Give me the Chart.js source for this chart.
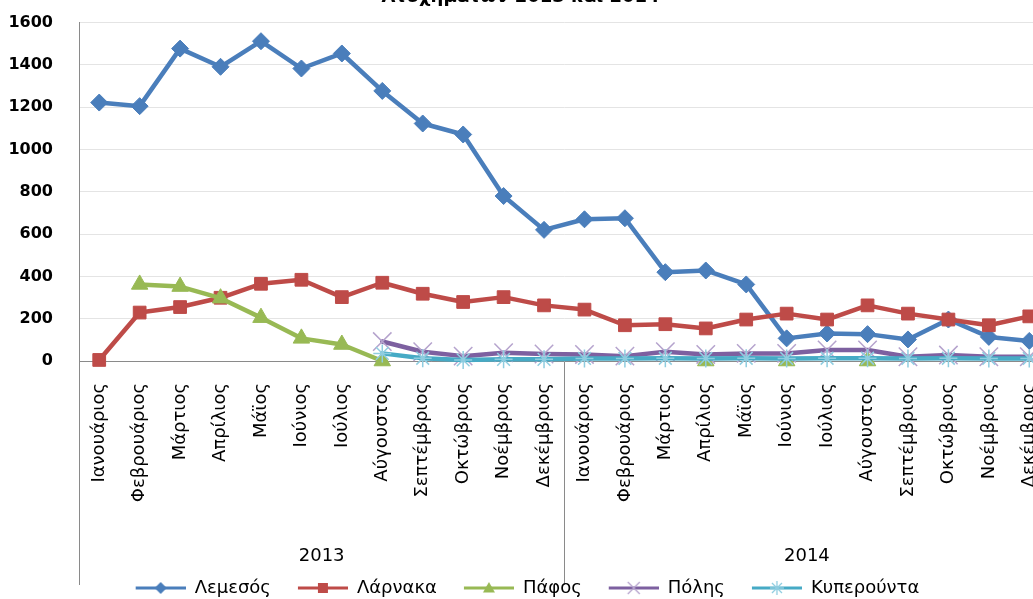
<!DOCTYPE html>
<html>
<head>
<meta charset="utf-8">
<script src="https://cdn.jsdelivr.net/npm/chart.js@4/dist/chart.umd.min.js"></script>
<style>
html,body{margin:0;padding:0;background:#fff;overflow:hidden;width:1033px;height:599px;position:relative}
#c{position:absolute;left:0;top:-13px}
</style>
</head>
<body>
<canvas id="c" width="1064" height="620"></canvas>
<script>
// ---- data ----
const months = ['Ιανουάριος','Φεβρουάριος','Μάρτιος','Απρίλιος','Μάϊος','Ιούνιος','Ιούλιος','Αύγουστος','Σεπτέμβριος','Οκτώβριος','Νοέμβριος','Δεκέμβριος'];
const categories = months.concat(months);
const years = ['2013','2014'];
const seriesNames = ['Λεμεσός','Λάρνακα','Πάφος','Πόλης','Κυπερούντα'];
const lemesos   = [1222,1205,1477,1391,1512,1383,1454,1277,1123,1071,780,620, 670,675,420,428,362,107,130,127,102,196,114,95];
const larnaka   = [5,229,255,299,365,384,302,370,318,279,302,263, 243,169,174,154,196,224,196,263,224,196,169,211];
const pafos     = [null,362,352,297,205,107,78,0,null,null,null,null, null,null,null,0,null,0,null,0,null,null,null,null];
const poleis    = [null,null,null,null,null,null,null,92,44,23,39,33, 31,23,44,31,36,36,52,52,20,28,20,20];
const kyperounta= [null,null,null,null,null,null,null,36,13,5,8,8, 12,12,13,12,13,12,13,13,12,13,12,12];
const yTicks = [0,200,400,600,800,1000,1200,1400,1600];
const titleText = 'Ατυχημάτων 2013 και 2014';

// ---- styles ----
const FONT = 'DejaVu Sans';
const styles = [
  {color:'#4A7EBB', point:'rectRot', r:8.5, pc:'#4A7EBB', pb:1},
  {color:'#BE4B48', point:'rect', r:9, pc:'#BE4B48', pb:1},
  {color:'#98B954', point:'triangle', r:9.5, pc:'#98B954', pb:1},
  {color:'#7D60A0', point:'crossRot', r:13, pc:'#B5A3CD', pb:1.5},
  {color:'#46AAC5', point:'star', r:9, pc:'#8FCDE0', pb:1.5}
];
const seriesData = [lemesos, larnaka, pafos, poleis, kyperounta];

// legend symbol: 14px blank, then a 50px line with the marker in its middle
function legendIcon(s){
  const c = document.createElement('canvas');
  c.width = 64; c.height = 18;
  const g = c.getContext('2d');
  g.strokeStyle = s.color; g.lineWidth = 3;
  g.beginPath(); g.moveTo(14,9); g.lineTo(64,9); g.stroke();
  g.fillStyle = s.pc; g.strokeStyle = s.pc; g.lineWidth = 1.3;
  const x = 39, y = 9;
  g.beginPath();
  if (s.point === 'rectRot'){ g.moveTo(x,y-6); g.lineTo(x+6,y); g.lineTo(x,y+6); g.lineTo(x-6,y); g.closePath(); g.fill(); }
  else if (s.point === 'rect'){ g.rect(x-5,y-5,10,10); g.fill(); }
  else if (s.point === 'triangle'){ g.moveTo(x,y-6); g.lineTo(x+6,y+4.5); g.lineTo(x-6,y+4.5); g.closePath(); g.fill(); }
  else if (s.point === 'crossRot'){ g.moveTo(x-6,y-6); g.lineTo(x+6,y+6); g.moveTo(x+6,y-6); g.lineTo(x-6,y+6); g.stroke(); }
  else { g.moveTo(x,y-7); g.lineTo(x,y+7); g.moveTo(x-5,y-5); g.lineTo(x+5,y+5); g.moveTo(x+5,y-5); g.lineTo(x-5,y+5); g.moveTo(x-7,y); g.lineTo(x+7,y); g.stroke(); }
  return c;
}
const icons = styles.map(legendIcon);

const datasets = seriesNames.map((name,i)=>({
  label: name,
  data: seriesData[i],
  borderColor: styles[i].color,
  backgroundColor: styles[i].color,
  borderWidth: 4.5,
  borderJoinStyle: 'round',
  borderCapStyle: 'round',
  tension: 0,
  pointStyle: styles[i].point,
  pointRadius: styles[i].r,
  pointHoverRadius: styles[i].r,
  pointBackgroundColor: styles[i].pc,
  pointBorderColor: styles[i].pc,
  pointBorderWidth: styles[i].pb,
  spanGaps: false,
  clip: false,
  order: seriesNames.length - i
}));

new Chart(document.getElementById('c'), {
  type: 'line',
  data: { labels: categories, datasets: datasets },
  options: {
    responsive: false,
    animation: false,
    events: [],
    layout: { padding: { left: -11.5, right: 11.5, top: 0, bottom: 0 } },
    plugins: {
      title: { display: true, text: titleText, color: '#000',
               font: { family: FONT, size: 18, weight: 'bold' },
               padding: { top: -2, bottom: 14 } },
      tooltip: { enabled: false },
      legend: {
        position: 'bottom',
        labels: {
          usePointStyle: true,
          pointStyleWidth: 64,
          boxHeight: 18,
          padding: 13,
          color: '#000',
          font: { family: FONT, size: 18 },
          generateLabels: (chart) => chart.data.datasets.map((ds,i)=>({
            text: ds.label, fillStyle: ds.borderColor, strokeStyle: ds.borderColor,
            lineWidth: 0, pointStyle: icons[i], hidden: false, datasetIndex: i, fontColor: '#000'
          }))
        }
      }
    },
    scales: {
      x: {
        type: 'category',
        offset: true,
        weight: 0,
        grid: {
          display: true, offset: true, drawOnChartArea: false, drawTicks: true,
          tickLength: 224, lineWidth: 1,
          color: (ctx) => (ctx.index === 0 || ctx.index === 12) ? '#8a8a8a' : 'rgba(0,0,0,0)'
        },
        border: { display: true, color: '#8a8a8a', width: 1 },
        ticks: {
          autoSkip: false, minRotation: 90, maxRotation: 90, padding: -202,
          color: '#000', font: { family: FONT, size: 18 }
        },
        afterFit: (s) => { s.height = 150; }
      },
      x2: {
        type: 'category',
        axis: 'x',
        labels: years,
        offset: true,
        position: 'bottom',
        weight: 1,
        grid: { display: false },
        border: { display: false },
        ticks: { padding: 27, maxRotation: 0, autoSkip: false, color: '#000', font: { family: FONT, size: 18 } },
        afterFit: (s) => { s.height = 55; }
      },
      y: {
        min: 0, max: 1600,
        grid: { color: '#e4e4e4', drawTicks: false, lineWidth: 1 },
        border: { display: true, color: '#8a8a8a', width: 1 },
        afterBuildTicks: (s) => { s.ticks = yTicks.map(v => ({ value: v })); },
        ticks: { padding: 26, color: '#000', font: { family: FONT, size: 16, weight: 'bold' },
                 callback: (v) => String(v) },
        afterFit: (s) => { s.width = 90.5; }
      }
    }
  }
});
</script>
</body>
</html>
